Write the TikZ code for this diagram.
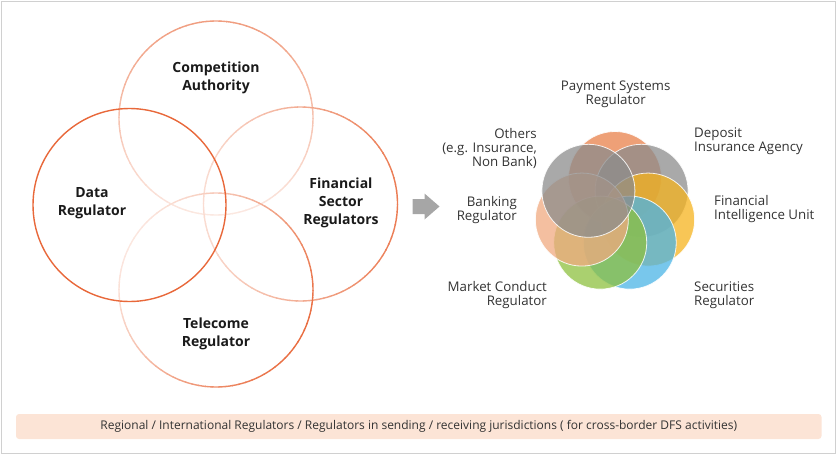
\documentclass[tikz,border=0pt]{standalone}
\usepackage{fontspec}
\setmainfont{Open Sans}
\usetikzlibrary{calc}
\definecolor{org}{HTML}{E8683A}
\definecolor{txt}{HTML}{1A1A1A}
\definecolor{lbl}{HTML}{333333}
\definecolor{barfill}{HTML}{FCE4D6}
\definecolor{arrowgray}{HTML}{A6A6A6}
\definecolor{framegray}{HTML}{D0D0D0}
\definecolor{payC}{HTML}{E8804A}
\definecolor{grayC}{HTML}{8C8C8C}
\definecolor{fiuC}{HTML}{F5B31E}
\definecolor{secC}{HTML}{4BB4E6}
\definecolor{mktC}{HTML}{8DC03F}
\definecolor{bnkC}{HTML}{F0AA80}
\newcommand\gradring[2]{%
  \foreach \a in {0,4,...,356}{%
    \pgfmathsetmacro\pp{#2}%
    \draw[org!\pp!white, line width=1.4pt] ($(#1)+(\a:97)$) arc[start angle=\a, end angle=\a+4.6, radius=97];
  }}
\tikzset{
  biglabel/.style={font=\fontsize{14}{18}\selectfont\bfseries, text=txt, align=center, inner sep=0pt},
  smlabel/.style={font=\fontsize{13.3}{14}\selectfont, text=lbl, inner sep=0pt},
  petal/.style={fill=#1, fill opacity=.75, draw=white, draw opacity=.85, line width=0.8pt},
}
\begin{document}
\begin{tikzpicture}[x=1pt,y=-1pt]
\useasboundingbox (0,0) rectangle (836,455);
\draw[framegray, line width=1pt] (1.5,1) rectangle (835,453.5);

% left venn
\coordinate (ctop) at (216,118);
\coordinate (cleft) at (129.5,205);
\coordinate (cright) at (300.5,204);
\coordinate (cbot) at (216,290);
\gradring{ctop}{40-25*sin(\a+2.3)}
\gradring{cright}{55+32*cos(\a+2.3)}
\gradring{cbot}{56+40*cos(\a+2.3-30)}
\draw[org, line width=1.4pt] (cleft) circle[radius=96.5];

\node[biglabel] (comp) at (216,78) {Competition\\Authority};
\node[biglabel] (data) at (92,203.5) {Data\\Regulator};
\node[biglabel] (fin) at (341,203) {Financial\\Sector\\Regulators};
\node[biglabel] (tel) at (216,334) {Telecome\\Regulator};

% arrow
\fill[arrowgray] (412.7,199) -- (424.5,199) -- (424.5,193.5) -- (439.5,206.5) -- (424.5,219.5) -- (424.5,214) -- (412.7,214) -- cycle;

% right cluster
\coordinate (rc) at (615,212);
\foreach \i/\c in {0/payC,1/grayC,2/fiuC,3/secC,4/mktC,5/bnkC,6/grayC}{
  \path (rc) ++ (-90+51.4286*\i:34) coordinate (rc\i);
}
\foreach \i/\c in {0/payC,1/grayC,2/fiuC,3/secC,4/mktC,5/bnkC,6/grayC}{
  \path[petal=\c] (rc\i) circle[radius=46.5];
}

\node[smlabel, align=center] (pay) at (615.7,94) {Payment Systems\\Regulator};
\node[smlabel, align=right, anchor=east] (oth) at (537,148.5) {Others\\(e.g. Insurance,\\Non Bank)};
\node[smlabel, align=left, anchor=west] (dep) at (694,141) {Deposit\\Insurance Agency};
\node[smlabel, align=right, anchor=east] (bnk) at (517,210) {Banking\\Regulator};
\node[smlabel, align=left, anchor=west] (fiu) at (714,209) {Financial\\Intelligence Unit};
\node[smlabel, align=right, anchor=east] (mkt) at (547,295) {Market Conduct\\Regulator};
\node[smlabel, align=left, anchor=west] (sec) at (694,295) {Securities\\Regulator};

% bottom bar
\node[fill=barfill, rounded corners=3pt, minimum width=805.5pt, minimum height=25pt, inner sep=0pt,
  font=\fontsize{12}{14}\selectfont, text=lbl] (bar) at (418.75,426.5)
  {Regional / International Regulators / Regulators in sending / receiving jurisdictions ( for cross-border DFS activities)};
\end{tikzpicture}
\end{document}
